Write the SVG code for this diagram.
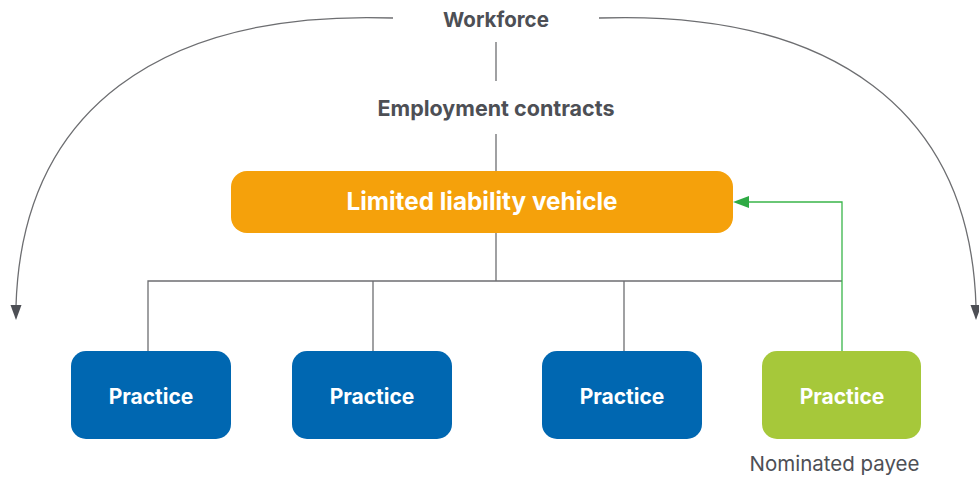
<svg xmlns="http://www.w3.org/2000/svg" width="979" height="477" viewBox="0 0 979 477">
<style>
.lbl{font-family:Inter,"Noto Sans","Liberation Sans",sans-serif;font-weight:700;fill:#4d4f55;text-anchor:middle}
.wt{font-family:Inter,"Noto Sans","Liberation Sans",sans-serif;font-weight:700;fill:#ffffff;text-anchor:middle}
.ln{stroke:#6d6e71;stroke-width:1.3;fill:none}
.gr{stroke:#3ab54a;stroke-width:1.3;fill:none}
</style>
<g id="connectors">
<path class="ln" d="M393,18 C160,10 22,110 16,306" />
<path d="M10.5,305 L21.5,305 L16,320 Z" fill="#4d4f55"/>
<path class="ln" d="M599,18 C832,10 970,110 976,306" />
<path d="M970.5,305 L981.5,305 L976,320 Z" fill="#4d4f55"/>
<line class="ln" x1="496" y1="42" x2="496" y2="81"/>
<line class="ln" x1="496" y1="134" x2="496" y2="171"/>
<line class="ln" x1="496" y1="233" x2="496" y2="281"/>
<polyline class="ln" points="148,351 148,281 842,281"/>
<line class="ln" x1="373" y1="281" x2="373" y2="351"/>
<line class="ln" x1="624" y1="281" x2="624" y2="351"/>
<polyline class="gr" points="842,351 842,202 749,202"/>
<path d="M733,202 L749,196 L749,208 Z" fill="#2eaa44"/>
</g>
<g id="workforce"><text class="lbl" x="496" y="27" font-size="20.5">Workforce</text></g>
<g id="employment"><text class="lbl" x="496" y="116" font-size="21.5">Employment contracts</text></g>
<g id="llv">
<rect x="231" y="171" width="502" height="62" rx="16" fill="#f5a10b"/>
<text class="wt" x="482" y="210" font-size="24.3">Limited liability vehicle</text>
</g>
<g id="p1"><rect x="71" y="351" width="160" height="88" rx="15" fill="#0067b1"/><text class="wt" x="151" y="404" font-size="21">Practice</text></g>
<g id="p2"><rect x="292" y="351" width="160" height="88" rx="15" fill="#0067b1"/><text class="wt" x="372" y="404" font-size="21">Practice</text></g>
<g id="p3"><rect x="542" y="351" width="160" height="88" rx="15" fill="#0067b1"/><text class="wt" x="622" y="404" font-size="21">Practice</text></g>
<g id="p4"><rect x="762" y="351" width="159" height="88" rx="15" fill="#a6c83a"/><text class="wt" x="842" y="404" font-size="21">Practice</text>
<text x="834.5" y="471" font-size="20.5" fill="#4d4f55" text-anchor="middle" font-family="Inter,'Noto Sans','Liberation Sans',sans-serif">Nominated payee</text></g>
</svg>
